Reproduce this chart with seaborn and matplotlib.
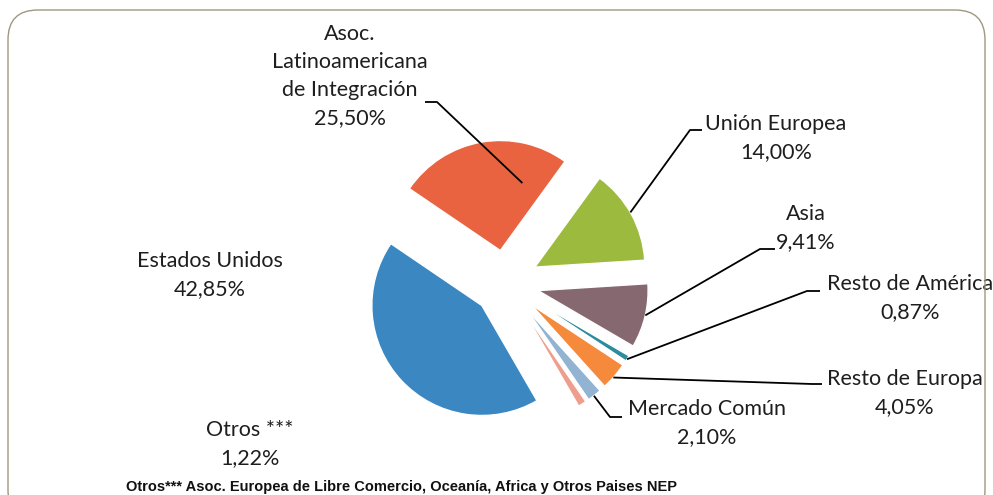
import numpy as np
import seaborn as sns
from matplotlib import pyplot as plt
from matplotlib.patches import FancyBboxPatch

# data, counterclockwise from 3 o'clock
regions = ["Unión Europea", "Asoc.\nLatinoamericana\nde Integración", "Estados Unidos",
           "Otros ***", "Mercado Común", "Resto de Europa", "Resto de América", "Asia"]
shares = [14.00, 25.50, 42.85, 1.22, 2.10, 4.05, 0.87, 9.41]
colors = ["#9cbb3e", "#ea6340", "#3b87c2", "#ef9d8c", "#93b3d3", "#f68a3c", "#2a8c9c", "#866870"]
footnote = "Otros*** Asoc. Europea de Libre Comercio, Oceanía, Africa y Otros Paises NEP"

W, H = 993, 495
R_PX = 110          # pie radius in pixels
CX, CY = 506, 283   # pie centre in pixels (from top-left)


def px(x, y):
    return (x - CX) / R_PX, (CY - y) / R_PX


sns.set_theme(style="white")
plt.rcParams['font.family'] = ['Lato', 'DejaVu Sans']

fig = plt.figure(figsize=(W / 100, H / 100), dpi=100)
ax = fig.add_axes([0, 0, 1, 1])

wedges, _ = ax.pie(shares, colors=sns.color_palette(colors), startangle=3.6, counterclock=True,
                   explode=[0.30] * len(shares), radius=1)
ax.set_xlim(-CX / R_PX, (W - CX) / R_PX)
ax.set_ylim(-(H - CY) / R_PX, CY / R_PX)
ax.set_aspect("equal")
ax.axis("off")

# label layout: text centre (px), leader start, elbow, (angle fraction, radius fraction) on wedge
layout = {
    0: ((776, 138), (702, 130), (690, 130), (0.52, 1.0)),
    1: ((350, 76), (425, 102), (437, 102), (0.195, 0.645)),
    2: ((210, 275), None, None, None),
    3: ((250, 444), None, None, None),
    4: ((707, 423), (622, 417), (610, 417), (0.45, 1.0)),
    5: ((905, 393), (822, 384), (812, 384), (0.44, 1.0)),
    6: ((910, 298), (820, 291), (807, 291), (0.35, 1.0)),
    7: ((806, 228), (775, 249), (760, 249), (0.51, 1.0)),
}

for i, w in enumerate(wedges):
    (tx, ty), start, elbow, on = layout[i]
    pct = f"{shares[i]:.2f}".replace(".", ",")
    ax.text(*px(tx, ty), f"{regions[i]}\n{pct}%", ha="center", va="center", fontsize=15.5,
            linespacing=1.5, color="#1e1e1e")
    if start is not None:
        t, rf = on
        ang = np.deg2rad(w.theta1 + t * (w.theta2 - w.theta1))
        ex = w.center[0] + rf * w.r * np.cos(ang)
        ey = w.center[1] + rf * w.r * np.sin(ang)
        sx, sy = px(*start)
        bx, by = px(*elbow)
        ax.plot([sx, bx, ex], [sy, by, ey], color="black", lw=1.3, solid_capstyle="butt")

fig.text(401 / W, 1 - 487 / H, footnote, ha="center", va="center", fontsize=10.5,
         fontweight="bold", family=["Liberation Sans", "DejaVu Sans"], color="#111")

frame = FancyBboxPatch((8 / W, -0.05), (985 - 8) / W, 1.05 - 10 / H,
                       boxstyle="round,pad=0,rounding_size=0.03", transform=fig.transFigure,
                       fill=False, edgecolor="#9e9880", lw=1.0, mutation_aspect=W / H)
fig.patches.append(frame)

fig.savefig("out.png", dpi=100)
